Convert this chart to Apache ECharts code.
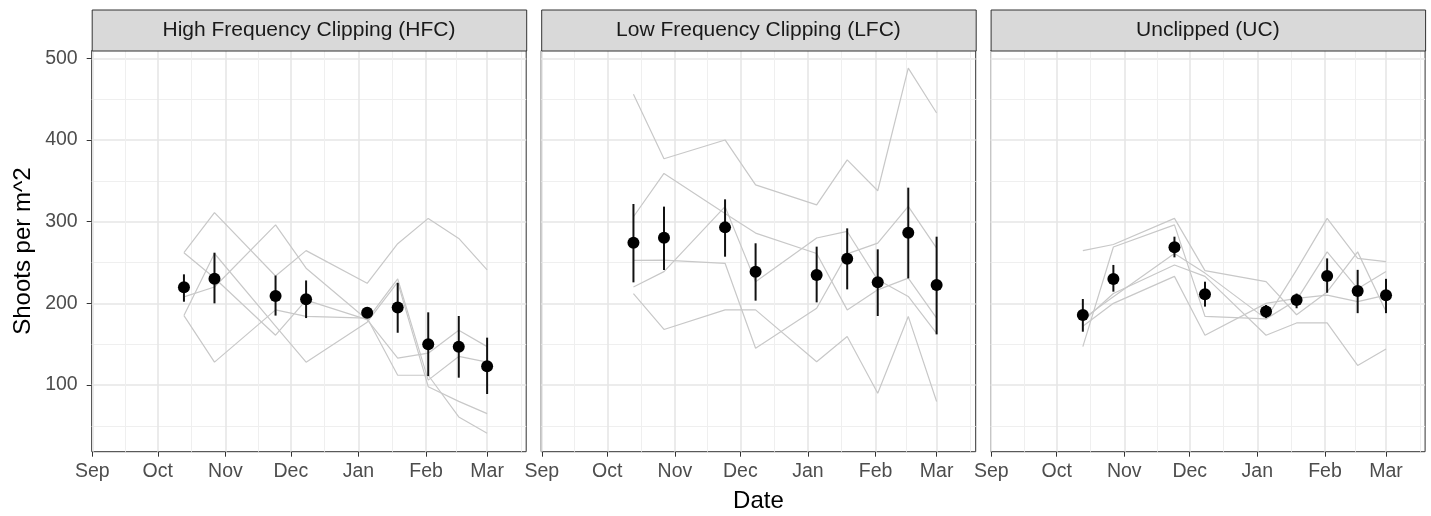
<!DOCTYPE html>
<html>
<head>
<meta charset="utf-8">
<script src="https://cdn.jsdelivr.net/npm/echarts@6/dist/echarts.min.js"></script>
<style>
html, body { margin: 0; padding: 0; background: #ffffff; }
#chart { width: 1431px; height: 516px; }
</style>
</head>
<body>
<div id="chart"></div>
<script>
// ---------------- data ----------------
const sampleDates = ['2017-10-13', '2017-10-27', '2017-11-24', '2017-12-08', '2018-01-05', '2018-01-19', '2018-02-02', '2018-02-16', '2018-03-01'];
const panelTitles = ['High Frequency Clipping (HFC)', 'Low Frequency Clipping (LFC)', 'Unclipped (UC)'];
const monthTickDates = ['2017-09-01', '2017-10-01', '2017-11-01', '2017-12-01', '2018-01-01', '2018-02-01', '2018-03-01'];
const monthTickLabels = ['Sep', 'Oct', 'Nov', 'Dec', 'Jan', 'Feb', 'Mar'];
const minorTickDates = ['2017-09-16', '2017-10-16T12', '2017-11-16', '2017-12-16T12', '2018-01-16T12', '2018-02-15', '2018-03-16T12'];
const yTickValues = [100, 200, 300, 400, 500];
const yMinorValues = [50, 150, 250, 350, 450];

// High Frequency Clipping
const hfcMean = [219.6, 230, 209, 205, 188.6, 195, 150, 147, 123];
const hfcLow  = [202, 200, 185, 182, 183, 164, 111, 109, 89];
const hfcHigh = [235.5, 262, 234, 228, 194, 225, 189, 184.5, 158];
const hfcPlot1 = [262, 311, 233.5, 264.5, 224.5, 273, 304, 279.5, 241];
const hfcPlot2 = [208, 220, 296, 243, 180, 230, 106, 135, 128];
const hfcPlot3 = [185, 261, 172, 128, 177, 226, 98, 80, 65];
const hfcPlot4 = [185, 128, 192, 184, 182, 112, 112, 61, 41];
const hfcPlot5 = [262, 231, 161, 204, 180, 133, 139, 167, 147];

// Low Frequency Clipping
const lfcMean = [274.3, 280.4, 293, 238.8, 234.7, 254.7, 225.7, 286.5, 222.4];
const lfcLow  = [225.7, 240.8, 257.1, 203.3, 201.2, 217.1, 184.5, 230.6, 162];
const lfcHigh = [321.6, 318.4, 327.3, 273.5, 269.4, 291.8, 266.1, 341.6, 281.6];
const lfcPlot1 = [456, 377, 400, 345, 320.5, 375.7, 337.8, 488, 433];
const lfcPlot2 = [306, 359, 310, 286, 261, 192, 216.5, 230.8, 181.8];
const lfcPlot3 = [220, 238.8, 318.4, 226.5, 280, 288, 228.8, 208.4, 163.3];
const lfcPlot4 = [252.7, 253, 249, 145, 194, 260.6, 273.7, 318.6, 267.6];
const lfcPlot5 = [212, 168, 192, 192, 128.6, 159.4, 90, 184, 79.8];

// Unclipped
const ucMean = [185.7, 229.8, 268.6, 211, 190, 204, 233.5, 215, 210];
const ucLow  = [165.3, 214.3, 256.3, 196, 182, 194, 213, 188, 188];
const ucHigh = [205.3, 247, 281.6, 226.5, 198, 212, 255, 241, 230];
const ucPlot1 = [264.5, 272, 304, 240, 226.5, 186, 214, 263, 190];
const ucPlot2 = [147, 269, 296, 184, 181, 241, 304, 255, 251];
const ucPlot3 = [181, 208, 261, 237, 181, 204, 263, 218, 239];
const ucPlot4 = [178, 212, 247, 233, 161, 176, 176, 124, 144];
const ucPlot5 = [172, 200, 233, 161, 200, 206, 210, 202, 210];

// ---------------- layout / style ----------------
const PANEL_LEFTS = [91.7, 541.2, 990.6];
const PANEL_WIDTH = 434.5;
const PLOT_TOP = 50.5;
const PLOT_HEIGHT = 401.2;
const STRIP_TOP = 9.5;
const STRIP_HEIGHT = 41;
const X_RANGE = ['2017-08-31T17', '2018-03-18T22'];
const Y_RANGE = [18.4, 509.5];
const FONT = '"Liberation Sans", Arial, Helvetica, sans-serif';

function ts(s) {
  const parts = s.split('T');
  const d = parts[0].split('-').map(Number);
  const h = parts[1] ? Number(parts[1]) : 0;
  return Date.UTC(d[0], d[1] - 1, d[2], h);
}

const dateTs = sampleDates.map(ts);
const monthTs = monthTickDates.map(ts);
const minorTs = minorTickDates.map(ts);

const panels = [
  { mean: hfcMean, low: hfcLow, high: hfcHigh, plots: [hfcPlot1, hfcPlot2, hfcPlot3, hfcPlot4, hfcPlot5] },
  { mean: lfcMean, low: lfcLow, high: lfcHigh, plots: [lfcPlot1, lfcPlot2, lfcPlot3, lfcPlot4, lfcPlot5] },
  { mean: ucMean, low: ucLow, high: ucHigh, plots: [ucPlot1, ucPlot2, ucPlot3, ucPlot4, ucPlot5] }
];

function monthLabel(v) {
  let best = -1, bd = Infinity;
  monthTs.forEach((t, i) => { const d = Math.abs(t - v); if (d < bd) { bd = d; best = i; } });
  return bd < 2 * 86400000 ? monthTickLabels[best] : '';
}

const grids = [], xAxes = [], yAxes = [], series = [], graphics = [];

panels.forEach((p, i) => {
  grids.push({
    left: PANEL_LEFTS[i], top: PLOT_TOP, width: PANEL_WIDTH, height: PLOT_HEIGHT,
    show: true, backgroundColor: '#ffffff', borderColor: '#333333', borderWidth: 1,
    containLabel: false, outerBoundsMode: 'none'
  });
  // main x axis (day timestamps on a linear scale)
  xAxes.push({
    gridIndex: i, type: 'value', min: ts(X_RANGE[0]), max: ts(X_RANGE[1]),
    position: 'bottom',
    axisLine: { show: false },
    axisTick: { show: true, customValues: monthTs, length: 5, lineStyle: { color: '#333333', width: 1 } },
    axisLabel: { show: true, customValues: monthTs, formatter: (v) => monthLabel(v), color: '#4d4d4d', fontSize: 19.5, fontFamily: FONT, margin: 10, hideOverlap: false },
    splitLine: { show: true, lineStyle: { color: '#e6e6e6', width: 1.6 } },
    minorTick: { show: false }, minorSplitLine: { show: false },
    name: i === 1 ? 'Date' : '', nameLocation: 'middle', nameGap: 38,
    nameTextStyle: { color: '#000000', fontSize: 24, fontFamily: FONT }
  });
  // minor x axis (mid-month grid lines)
  xAxes.push({
    gridIndex: i, type: 'value', min: ts(X_RANGE[0]), max: ts(X_RANGE[1]),
    position: 'top',
    axisLine: { show: false },
    axisTick: { show: false, customValues: minorTs },
    axisLabel: { show: false, customValues: minorTs },
    splitLine: { show: true, lineStyle: { color: '#efefef', width: 1 } }
  });
  // main y axis
  yAxes.push({
    gridIndex: i, type: 'value', min: Y_RANGE[0], max: Y_RANGE[1], position: 'left',
    axisLine: { show: false },
    axisTick: { show: i === 0, customValues: yTickValues, length: 5, lineStyle: { color: '#333333', width: 1 } },
    axisLabel: { show: i === 0, customValues: yTickValues, color: '#4d4d4d', fontSize: 19.5, fontFamily: FONT, margin: 14 },
    splitLine: { show: true, lineStyle: { color: '#e6e6e6', width: 1.6 } },
    name: i === 0 ? 'Shoots per m^2' : '', nameLocation: 'middle', nameRotate: 90, nameGap: 56,
    nameTextStyle: { color: '#000000', fontSize: 24, fontFamily: FONT }
  });
  // minor y axis
  yAxes.push({
    gridIndex: i, type: 'value', min: Y_RANGE[0], max: Y_RANGE[1], position: 'right',
    axisLine: { show: false },
    axisTick: { show: false, customValues: yMinorValues },
    axisLabel: { show: false, customValues: yMinorValues },
    splitLine: { show: true, lineStyle: { color: '#efefef', width: 1 } }
  });

  const xi = 2 * i, yi = 2 * i;
  p.plots.forEach((plot) => {
    series.push({
      type: 'line', xAxisIndex: xi, yAxisIndex: yi, silent: true, animation: false,
      symbol: 'none', z: 2,
      lineStyle: { color: '#c8c8c8', width: 1.2, opacity: 1 },
      data: dateTs.map((t, j) => [t, plot[j]])
    });
  });
  series.push({
    type: 'custom', xAxisIndex: xi, yAxisIndex: yi, silent: true, animation: false, z: 3,
    encode: { x: 0, y: [1, 2] },
    data: dateTs.map((t, j) => [t, p.low[j], p.high[j]]),
    renderItem: (params, api) => {
      const x = api.value(0);
      const a = api.coord([x, api.value(1)]);
      const b = api.coord([x, api.value(2)]);
      return { type: 'line', shape: { x1: a[0], y1: a[1], x2: b[0], y2: b[1] }, style: { stroke: '#111111', lineWidth: 2, opacity: 1 } };
    }
  });
  series.push({
    type: 'scatter', xAxisIndex: xi, yAxisIndex: yi, silent: true, animation: false, z: 4,
    symbol: 'circle', symbolSize: 12,
    itemStyle: { color: '#000000', opacity: 1 },
    data: dateTs.map((t, j) => [t, p.mean[j]])
  });

  graphics.push({
    type: 'rect', left: PANEL_LEFTS[i], top: STRIP_TOP, silent: true, z: 10,
    shape: { width: PANEL_WIDTH, height: STRIP_HEIGHT },
    style: { fill: '#d9d9d9', stroke: '#333333', lineWidth: 1 }
  });
  graphics.push({
    type: 'text', silent: true, z: 11,
    x: PANEL_LEFTS[i] + PANEL_WIDTH / 2, y: STRIP_TOP + STRIP_HEIGHT / 2,
    style: { text: panelTitles[i], fill: '#1a1a1a', fontSize: 21, fontFamily: FONT, align: 'center', verticalAlign: 'middle' }
  });
});

const chart = echarts.init(document.getElementById('chart'), null, { renderer: 'canvas' });
chart.setOption({
  animation: false,
  backgroundColor: '#ffffff',
  grid: grids,
  xAxis: xAxes,
  yAxis: yAxes,
  series: series,
  graphic: graphics
});
</script>
</body>
</html>
